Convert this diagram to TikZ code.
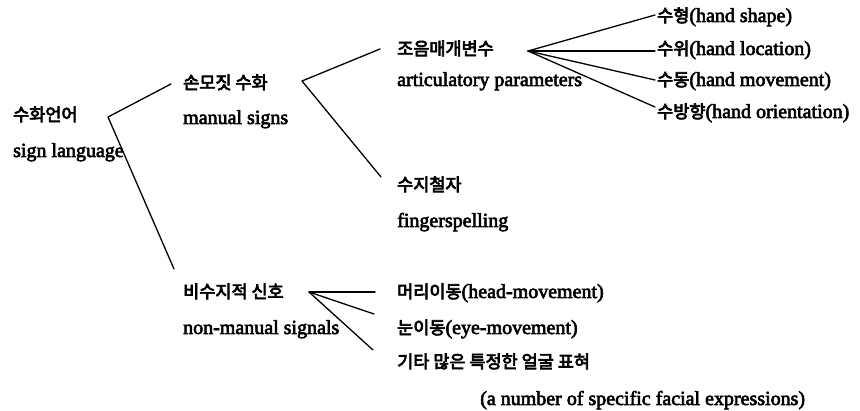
\documentclass[tikz,border=0pt]{standalone}
\usepackage{fontspec}
\setmainfont[FakeBold=3]{Liberation Serif}
\newfontfamily\hangulfont[FakeBold=4]{Noto Sans CJK KR}
\newcommand\hangul[1]{{\hangulfont\fontsize{17.5}{19}\selectfont #1}}
\begin{document}
\begin{tikzpicture}[x=1pt,y=-1pt,
  font=\fontsize{20}{22}\selectfont,
  lbl/.style={anchor=west, inner sep=0pt, text height=14pt, text depth=4pt},
  conn/.style={line width=1.3pt, line cap=round, line join=round}]
\useasboundingbox (0,0) rectangle (860,411);
\fill[white] (0,0) rectangle (860,411);

% level 0
\node[lbl] (sl)  at (13,116) {\hangul{수화언어}};
\node[lbl] (sle) at (13,152) {sign language};

% level 1
\node[lbl] (ms)  at (183,84)  {\hangul{손모짓 수화}};
\node[lbl] (mse) at (183,119) {manual signs};
\node[lbl] (nm)  at (183,293) {\hangul{비수지적 신호}};
\node[lbl] (nme) at (183,329) {non-manual signals};

% level 2
\node[lbl] (ap)  at (397,50)  {\hangul{조음매개변수}};
\node[lbl] (ape) at (397,81)  {articulatory parameters};
\node[lbl] (fs)  at (397,186) {\hangul{수지철자}};
\node[lbl] (fse) at (397,222) {fingerspelling};

% level 3 (articulatory)
\node[lbl] (hs) at (657,17)  {\hangul{수형}(hand shape)};
\node[lbl] (hl) at (657,50)  {\hangul{수위}(hand location)};
\node[lbl] (hm) at (657,81)  {\hangul{수동}(hand movement)};
\node[lbl] (ho) at (657,113) {\hangul{수방향}(hand orientation)};

% level 2 (non-manual)
\node[lbl] (hd) at (397,293) {\hangul{머리이동}(head-movement)};
\node[lbl] (ey) at (397,329) {\hangul{눈이동}(eye-movement)};
\node[lbl] (fe) at (397,363) {\hangul{기타 많은 특정한 얼굴 표혀}};
\node[lbl] (fee) at (480,400) {(a number of specific facial expressions)};

% connectors
\coordinate (v1) at (108,117);
\coordinate (v1a) at (171,84);
\coordinate (v1b) at (174,269);
\draw[conn] (v1a) -- (v1) -- (v1b);

\coordinate (v2) at (302,81);
\coordinate (v2a) at (380,49);
\coordinate (v2b) at (381,177);
\draw[conn] (v2a) -- (v2) -- (v2b);

\coordinate (v3) at (528,51);
\coordinate (v3a) at (655,15);
\coordinate (v3b) at (655,51);
\coordinate (v3c) at (655,80);
\coordinate (v3d) at (655,107);
\draw[conn] (v3) -- (v3a);
\draw[conn] (v3) -- (v3b);
\draw[conn] (v3) -- (v3c);
\draw[conn] (v3) -- (v3d);

\coordinate (v4) at (309,292);
\coordinate (v4a) at (375,292);
\coordinate (v4b) at (374,314);
\coordinate (v4c) at (373,350);
\draw[conn] (v4) -- (v4a);
\draw[conn] (v4) -- (v4b);
\draw[conn] (v4) -- (v4c);
\end{tikzpicture}
\end{document}
